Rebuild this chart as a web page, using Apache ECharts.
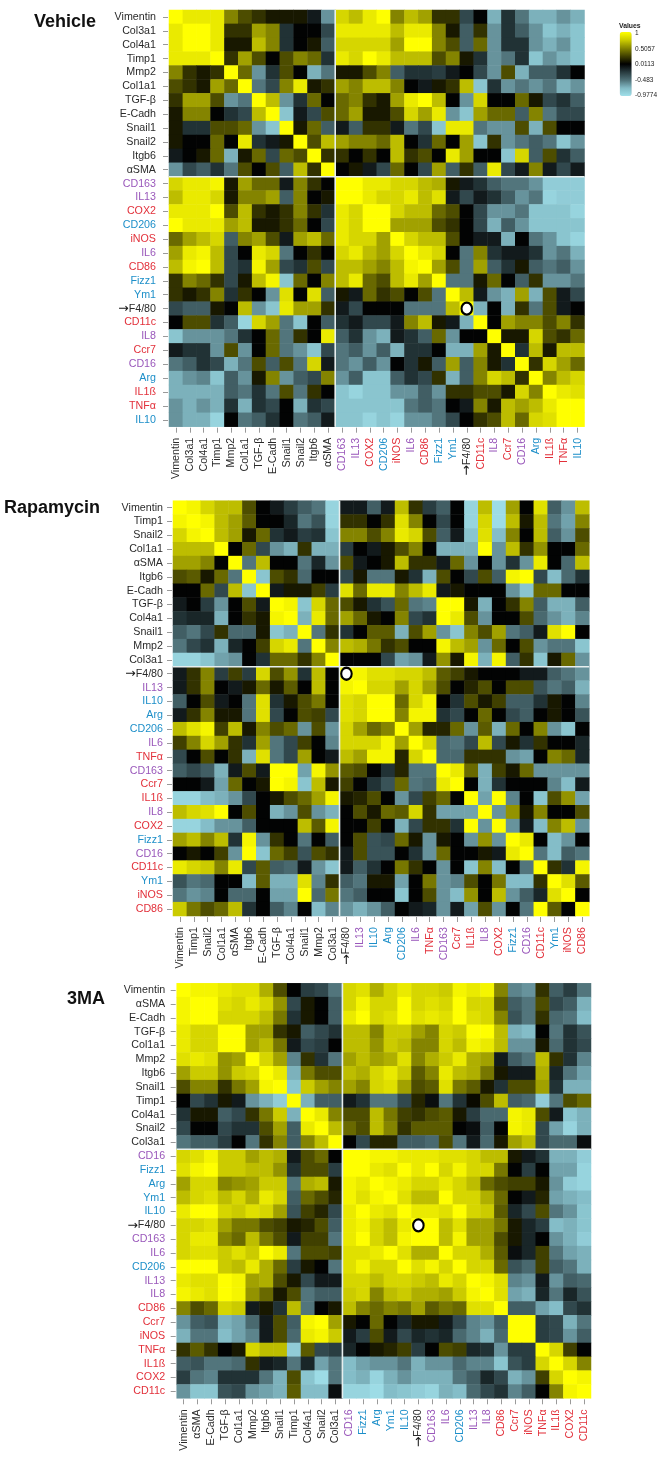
<!DOCTYPE html>
<html><head><meta charset="utf-8">
<style>html,body{margin:0;padding:0;background:#fff}#c{width:668px;height:1458px}#c canvas{filter:blur(.4px)}</style>
<script src="https://cdn.jsdelivr.net/npm/echarts@6/dist/echarts.min.js"></script>
</head><body><div id="c"></div>
<script>
// Correlation values, in tenths.
const vehicleLabels = ['Vimentin','Col3a1','Col4a1','Timp1','Mmp2','Col1a1','TGF-β','E-Cadh','Snail1','Snail2','Itgb6','αSMA','CD163','IL13','COX2','CD206','iNOS','IL6','CD86','Fizz1','Ym1','→F4/80','CD11c','IL8','Ccr7','CD16','Arg','IL1ß','TNFα','IL10'];
const rapamycinLabels = ['Vimentin','Timp1','Snail2','Col1a1','αSMA','Itgb6','E-Cadh','TGF-β','Col4a1','Snail1','Mmp2','Col3a1','→F4/80','IL13','IL10','Arg','CD206','IL6','TNFα','CD163','Ccr7','IL1ß','IL8','COX2','Fizz1','CD16','CD11c','Ym1','iNOS','CD86'];
const threeMALabels = ['Vimentin','αSMA','E-Cadh','TGF-β','Col1a1','Mmp2','Itgb6','Snail1','Timp1','Col4a1','Snail2','Col3a1','CD16','Fizz1','Arg','Ym1','IL10','→F4/80','CD163','IL6','CD206','IL13','IL8','CD86','Ccr7','iNOS','TNFα','IL1ß','COX2','CD11c'];

const purpleMarkers = ['CD163','IL13','IL6','IL8','CD16'];
const blueMarkers = ['CD206','Fizz1','Ym1','Arg','IL10'];
const redMarkers = ['COX2','iNOS','CD86','CD11c','Ccr7','IL1ß','TNFα'];

const vehicleValues = [
[10,9,9,9,5,3,2,1,1,1,-1,-6,8,7,9,10,5,7,6,2,2,-3,0,-7,-2,-5,-7,-7,-6,-7],
[9,10,10,9,2,2,6,5,-2,0,0,-3,9,9,9,9,7,9,9,5,1,-4,2,-6,-2,-4,-6,-8,-7,-8],
[9,10,10,9,1,1,7,5,-2,0,1,-4,8,8,8,8,6,10,10,5,3,-4,4,-6,-2,-2,-6,-7,-6,-8],
[9,9,9,10,2,6,3,0,3,5,4,-2,9,8,10,9,7,7,7,3,5,1,-2,-6,-5,-2,-8,-6,-7,-8],
[5,2,1,2,10,4,-6,-2,3,0,-7,-5,1,1,3,5,-4,-2,-2,-2.5,-1,0,-3,-6,3,-7,-4,-4,-2,0],
[3,2,1,6,4,10,-5,-3,5,9,1,2,6,5,7,7,5,0,-1,1,2,7,-8,-2,-6,-5,-6,-5,-7,-6],
[2,6,6,3,-6,-5,10,7,-6,-2,4,0,4,5,2,1,6,9,10,7,0,-6,8,0,0,4,1,-3,-2,-4],
[1,5,5,0,-2,-3,7,10,-8,-1,-3,3,4,6,1,1,3,8,6,9,-6,-8,6,4,4,-4,5,-5,-3,-3],
[1,-2,-2,3,3,4,-6,-8,10,1,4,-4,-1,-4,2,2,-1,-5,-3,-8,9,9,-5,-6,-6,3,-7,3,0,0],
[1,0,0,4,0,9,-2,-1,1,10,3,7,6,5,5,4,7,0,-2,4,0,6,-8,2,-6,-5,-4,-5,-8,-6],
[-1,0,1,4,-7,1,4,-3,4,3,10,2,2,0,2,0,7,2,3,0,9,6,0,0,-8,8,-4,3,-2,-4],
[-6,-3,-4,-2,-5,3,0,3,-4,7,2,10,0,1,-1,-3,4,0,-3,6,-4,2,-4,9,-3,-1,5,-1,-3,-1],
[8,9,9,9.5,1,6,4,4,-1,5,2,0,10,10,9,9,8,8,7,6.5,1,-1,-2,-4,-5,-5,-6,-8.5,-8.5,-8.5],
[7,9,9,8,1,5,5,6,-4,5,0,1,10,10,9,8,8,9,7,8.5,-1,-3,-1,-2,-4,-6,-5,-9,-8.5,-8.5],
[9,9,9,10,3,7,2,1,2,5,2,-2,9,8,10,10,8,7,7,4,3,0,-3,-6,-6,-5,-8,-8,-8,-9],
[10,9,9,9,6,7,1,1,2,4,0,-3,9,8,10,10,6,6,6,3,2,0,-3,-7,-4,-6,-8,-8,-8,-8],
[4,6,7,8,-4,5,6,3,-1,6,7,4,9,8,8,6,10,8,7,7,3,0,-1,-1,-7,0,-5,-6,-8,-9],
[6,9,9.5,7,-3,0,9,8,-5,0,2,0,8,9,7,6,8,10,9,8,0,-5,5,-2,-1,-1,-2,-6,-5,-7],
[7,9.5,10,7,-3,-2,9.5,6,-3,-2,3,-3,7,7,6,5,7,9.5,10,6,3,-5,6,-4,-2,1,-4,-5,-4,-6],
[2,5,4,2,-3,1,7,9.5,-8,4,0,5,7,9,4,3,7,9,6,10,-5,-5,1,4,0,-4,2,-6,-6,-5],
[2,1,2,5,-2,2,0,-6,8.5,0,8.5,-4,1,-1,4,2,3,0,3,-5,10,7,-1,-6,-7,6,-7,3,-1,-3],
[-3,-4,-4,1,0,7,-6,-8,9,6,6,2,-1,-3,0,0,0,-5,-5,-5,7,10,-7,0,-7,2,-5,3,-1,0],
[0,3,3,-2,-4,-9,8,6,-5,-8,0,-4,-2,-1,-3,-3,-1,5,7,1,-1,-7,10,0,6,5,5,3,5,2],
[-8,-6,-6,-6,-5,-2,0,4,-5,2,0,9,-4,-2,-6,-7,-1,-2,-4,4,-6,0,0,10,1,1,8,3,2,4],
[-1,-2,-2,-6,3,-6,0,4,-5,-6,-8,-3,-5,-4,-6,-4,-7,-2,-2,0,-7,-7,6,1,10,-2,7,1,7,7],
[-5,-4,-2,-3,-7,-5,3,-4,3,-5,8,-1,-5,-6,-4,-6,0,-2,1,-4,6,-4,5,1,-2,10,2,8,6,4],
[-7,-6,-5.5,-8,-4,-6,1,5,-6,-4,-3,5,-6,-4,-8,-8,-4,-2,-3,2,-7,-4,5,8,7,2,10,5,7,8],
[-7,-7,-7,-7,-4,-5,-2,-5,3,-5,2,0,-8,-9,-8,-8,-6,-6,-4,-6,2,2,3,3,1,8,5,10,9,8.5],
[-6,-7,-6,-7,-2,-7,-2,-3,0,-7,-2,-3,-8,-8,-8,-8,-8,-5,-4,-5,0,-1,5,1,7,6,7,9,10,10],
[-6,-7,-7,-9,0,-5,-4,-2,0,-5,-4,-1,-8,-8,-9,-8,-9,-6,-6,-5,-3,0,2,3,7,4,8,8.5,10,10]
];
const rapamycinValues = [
[10,9.5,8,7,7,3,0,-1,-2.5,-4,-5,-9,-1,-1,-4,-1,7,2,-2.5,-4,0,-9,7,-9.5,6,0,8.5,-4,-6,7],
[9.5,10,9.5,7,6,3.5,0,0,-1.5,-5,-3.5,-9,2,2,0,2,8.5,5,0,-3,0,-9,8,-9.5,7,1,7,-5,-6.5,5],
[8,9.5,10,7,6,1,4,-2,-1,-2.5,-2,-8,5,5,3,5,9,8,3,-4,-1,-8,8.5,-7.5,5,0,7,-4,-6,3],
[7,7,7,10,0,4,-3,-6,-7,2,-7,-7,-2.5,0,-1,1,3,5,0,-7,-7,-7,10,-6,7,2,5.5,0,0,4],
[6,6,5,0,10,-5,7,0,0,-5,-1.5,-6,3,-1,0,1,7,2,2,-1,4,-6,0,-6,-2,-6,9,0,-4.5,7],
[3,3.5,1,4,-5,10,-8,3,2,-4.5,0,0,-3,1,-5,-5,1,-2,-7,3,0,-3,3,-4,9.5,10,-3,-7.5,-4.5,-2],
[0,0,4,-3,7,-8,10,-1,1,1,2.5,-2.5,8.5,4,9,9,5,7,9,-1,1,0,0,0,-6,-8,4,4,0,0],
[-1,0,-2.5,-6,0,3,-1,10,9.5,-8,8,4,3,1,-2,-3.5,4,-5,-5.5,10,10,1,-7,0,2,5,-4,-7,-7,-4],
[-2,-1.5,-1.5,-7,0,2,1,9.5,10,-7,9,4,6,4,1,0,5,-3,-2,10,9,3,-6,0,0,3,-4.5,-6,-7,-5.5],
[-4,-5,-3,2,-4.5,-4.5,1,-8,-7,10,-5,2,-2,0,3.5,3.5,-7,3,6,-6,-8,5,3,6,-5,-4,-1,8.5,10,0],
[-5,-3,-2,-7,-1.5,0,2.5,8,9,-5,10,5,7,6.5,4.5,2,3,0,0,9.5,7,6,-6,4,0,3,-6,-5,-5,-8],
[-9,-9,-8,-6.5,-6,0,-2,4,4,2,5,10,0,0,0,-3,-6.5,-6,-1,5.5,1,9.5,-7,9.5,-4,2,-8,1,4,-6],
[-1,2,5,-2.5,2.5,-2.5,8,3,5.5,-2,7,0,10,9.5,8.5,8.5,8,8,7,3.5,2.5,1,0,0,0,-1,-1,-4,-5,-6],
[-1,2,5,0,-1,1,4,1,3.5,0,7,0,9.5,10,8,8,6,8,6,3,0,1.5,3,0,3,3,-3.5,-5,-4,-7],
[-4,0,3,-1,0,-5,8.5,-2,1,3,4.5,0,8.5,8,10,10,4,8,9.5,0,-2,3,1,2.5,-4,-4,-2,1,0,-5.5],
[-1,2,5,1,1,-5,8.5,-3,0,3,2.5,-3,8.5,8,10,10,5,9.5,9.5,-2,-3,0,4,0,-3,-4,0,1,0,-3.5],
[7,8.5,9.5,2.5,7,1,5,3,4,-6,3,-6,8,6,4,5,10,6,1.5,1.5,4,-6,3.5,-7,4,0,5,-6,-8,0],
[2.5,5,8,6,2,-2,6,-5,-3,2.5,0,-5.5,8,8,8,9.5,6,10,8,-4.5,-5,-3,7,-3,1,-2,2,0,0,-1.5],
[-3,0,3,0,2,-7,8.5,-5,-3,6,0,-1,7,6,9.5,9.5,1.5,8,10,-4.5,-4.5,2,2,2,-6,-6.5,0,5,4,-1.5],
[-4,-3,-4,-7,-1,3,-1,10,10,-6.5,9.5,5.5,3.5,3,0,-2,1.5,-5,-5,10,9,4,-7,2.5,1,4,-6,-6,-6,-6],
[0,0,-1,-6.5,4,0,1,10,9.5,-8,7,1,2.5,0,-2,-3.5,4,-5,-4.5,9,10,0,-7,-2,0,0,0,-5.5,-7.5,-1],
[-9,-9,-7.5,-7,-6,-3,0,1,3,4,6,9.5,1,1.5,3,0,-6,-3,2.5,4,0,10,-6.5,10,-5.5,0,-8,3,5.5,-6.5],
[7,8,8.5,10,0,3,0,-7,-6,3,-6,-7,0,3,1,4,3.5,8,2,-6.5,-6.5,-6.5,10,-6,5.5,1,5,0,0,3],
[-9,-9,-7.5,-6,-6,-4,0,0,0,7,3.5,9.5,0,0,2.5,0,-7,-3,2,2,-2,10,-6,10,-6,-1,-7.5,5,7,-6],
[6,7,5,7,-2,9.5,-6,2,0,-5,0,-4,0,3,-3.5,-3,4,1,-6,1,0,-6,5.5,-6,10,9,0,-7.5,-6,0],
[0,1,0,2.5,-6,10,-8,4,2.5,-3.5,3,2,-1,3,-3.5,-3.5,0,-2,-6,4,0,0,1,-1,9,10,-5,-7.5,-4,-5],
[9,8,7.5,5,9,-3,3.5,-4,-4.5,-1,-6,-8,-1,-4,-2,0,4.5,2,0,-6,0,-8,5,-7.5,0,-5,10,2,-2,9.5],
[-3.5,-5,-4.5,0,0,-7.5,3.5,-7,-7,8.5,-5.5,2,-4,-5,1,1,-6.5,0,4.5,-6,-5.5,3,0,4.5,-7.5,-7.5,2,10,8.5,3.5],
[-5,-6,-5.5,0,-4.5,-4.5,0,-6.5,-6.5,10,-4.5,4.5,-5,-4,0,0,-8,0,3,-6,-7.5,5.5,0,7,-6,-4,-1.5,8.5,10,0],
[7.5,4.5,3,4,7,-2,0,-4,-5.5,0,-7.5,-5.5,-6,-7,-6,-4,0,-1,-1.5,-6,-1,-6.5,3,-6,0,-5,10,3.5,0,10]
];
const threeMAValues = [
[10,9.5,9.5,9,8.5,8.5,6.5,3,0,-2.5,-3,-5,8,8.5,6.5,8,9,8,8,7.5,9.5,9,9.5,5,-5.5,-6,2,-4,-2.5,-5],
[9.5,10,10,8.5,8,9,8,5.5,-3,1,0,-4,8,9.5,8,8,10,8,8.5,8,10,8,8,3.5,-4,-5,3,-3,-4,-7],
[9.5,10,10,8,8,8,7,4.5,-2,1,0,-4,9,10,8,8.5,10,8.5,9,8.5,10,8.5,8,5,-3.5,-5,2,-4.5,-5,-7.5],
[9,8,8,10,10,6,6,2,1,-4,-3,-2,7,7,5,7.5,7.5,6,5,8,7.5,10,10,7,-7,-7.5,0,-5,-2,-3.5],
[9,8,8,10,10,6,7,4.5,-1,-3,-2.5,0,7,7,5.5,7.5,7,5,5,8,7,9.5,9,7,-6,-6,1,-4.5,-2,-3],
[8.5,9,8.5,5.5,6,10,8,6,-5.5,2,-2,-5,6,7,6,6.5,8.5,5,6.5,7.5,9,6.5,6,-1,-4,-5,7,2,-2,-5.5],
[6,7.5,7.5,5.5,7.5,8,10,9,-7,4.5,3,3,7,6.5,8,9,7.5,3.5,5,9,7,6.5,4.5,1,-1,-1,6.5,-1.5,-5,-6.5],
[3,5,5,2,4.5,6,9.5,10,-8,7.5,6,5,6,5,8,8.5,6,3,3.5,8.5,4.5,3.5,1,-2,3,3,6,-2,-7,-7],
[0,-3,-2,1,-1,-6,-7,-8.5,10,-7,-4,-4,-1,-2,-5,-5,-3,1.5,-0.5,-5,-2,0.5,3,7,-4,-4.5,-8.5,-5,3,4],
[-2,1,1,-4,-3,2,4.5,7.5,-7,10,9,5,3,3,7,4.5,2.5,2,3,3.5,1,-2.5,-4.5,-4.5,9.5,9,3,-1,-8,-7],
[-3,0,0,-3,-2,-2,3,6,-4,9,10,7,4,3,7,5,2,3.5,3.5,3.5,0,-0.5,-4,0,9.5,9,-3,-6.5,-9,-7],
[-5,-4,-4,-2.5,0,-5,2,5,-4,5,7,10,0,-3,1.5,1.5,-4,-4,-4.5,3,-5,-1,-4.5,1,6,7,-3,-4.5,-4.5,-0.5],
[8,8.5,9.5,7.5,7.5,6,7,6.5,-1,3,4,0,10,10,9.5,9.5,9,9,9,8.5,8.5,8,7,7,1,-1,-2,-7,-7,-8.5],
[8.5,9.5,10,7.5,7.5,7,7,5.5,-2,3,3,-2.5,10,10,9,8.5,10,9,10,8,9.5,8,8,4.5,0,-2.5,0,-6.5,-6.5,-9],
[6,8,8,5,5.5,6,7.5,7.5,-5,6.5,7,1,9.5,9,10,9.5,9,8,8,9,8,7,4,3,2.5,2.5,1,-6,-8.5,-9],
[7,8,8.5,7,8,6.5,9,8,-4,4,3,1.5,9.5,8.5,9.5,10,8.5,7,7,10,8,8,6.5,4,0,-1,1.5,-6.5,-7,-7.5],
[9,10,10,8,7.5,8.5,8,6,-3.5,2.5,1.5,-3,9,10,9,8.5,10,9,9,8.5,10,8,7.5,3.5,-1.5,-3,3,-5,-6,-8],
[8,8,8.5,6,4.5,4.5,3,2.5,1,1.5,3,-4,9,9.5,8,7,9,10,10,7,8.5,6,6,4.5,1,-1.5,-2.5,-7.5,-7,-8],
[8,9,9,5,4,7,4.5,3,-1,2.5,2.5,-5,9,10,8,7,9.5,10,10,7,9.5,6,6,3,1,-1.5,0,-6,-7,-8.5],
[8,8.5,8.5,7.5,8.5,7.5,10,9,-5,3,3,2.5,8.5,8.5,9,10,8.5,6.5,6.5,10,8,8,6.5,3.5,-0.5,-1.5,2.5,-5,-6.5,-7],
[10,10,10,7.5,7,9,6.5,4,-2.5,1,0,-5,8.5,9.5,8,8,10,8.5,9.5,8,10,8,8,4,-3.5,-4.5,2.5,-4,-5,-7],
[9,8.5,8.5,10,9.5,6,6.5,3,1,-3,-1,-1,8,8,7,8,8,7.5,7,9,8,10,9.5,8.5,-5.5,-6,-1,-6,-4,-4.5],
[9.5,9,8.5,10,9.5,5.5,4,1,3,-5,-4,-4,7.5,8,5,7,7.5,6.5,6.5,6,7.5,9.5,10,8.5,-6.5,-7,-1.5,-5,-1.5,-3.5],
[5,3,4,8,7.5,-1,1,-2,7,-5,0,1,7,5,4,5,4.5,6,3.5,4.5,4,8.5,8.5,10,-4,-4,-6.5,-7.5,-3,-2],
[-6,-4,-3.5,-7,-6.5,-4.5,-1,3,-4,9.5,10,6,1,0,4,0,-1.5,1,1,-1,-3,-5.5,-6,-4,10,10,-2.5,-3,-7,-5],
[-7,-5,-5,-7.5,-6.5,-5.5,-1,3,-4.5,9,9.5,7.5,-1,-2.5,3,-1,-3,-1.5,-2,-1.5,-4.5,-5.5,-7,-4.5,10,10,-2.5,-3,-6,-4],
[2,3.5,2,0,1,8,7,7,-8.5,3.5,-3,-2.5,-1.5,0,1,1.5,2.5,-2.5,0,3,2.5,-1.5,-2,-6,-2.5,-2.5,10,8,2.5,0],
[-4,-3.5,-5,-5,-4.5,2,-1,-1.5,-5,-1.5,-6.5,-5,-7.5,-6.5,-6,-6,-5,-7,-6,-6,-4.5,-5.5,-5.5,-8,-3.5,-2.5,8,10,8,5],
[-2.5,-5,-5.5,-2,-2,-2,-5,-7,3,-8,-9.5,-5,-7.5,-7,-9,-7,-6,-7,-7,-7,-5,-4,-1.5,-3,-7,-6,2.5,8,10,9.5],
[-6,-8,-8,-3.5,-3,-6,-6.5,-7,3.5,-7.5,-7.5,-0.5,-9,-9,-9.5,-7.5,-8,-8.5,-9,-7,-7.5,-4.5,-3,-2,-5.5,-4,0,5,9.5,10]
];

const legendTicks = ['1','0.5057','0.0113','-0.483','-0.9774'];
const valueMin = -0.9774, valueMax = 1;
const lastGeneLabel = {vehicle:'αSMA', rapamycin:'Col3a1', threeMA:'Col3a1'};
const dotLabel = '→F4/80';

const panels = [
  {name:'Vehicle', titleLeft:34, titleTop:13, labels:vehicleLabels, values:vehicleValues, lastGene:lastGeneLabel.vehicle,
   left:169, top:10, width:415.5, height:416.7, yMargin:12},
  {name:'Rapamycin', titleLeft:4, titleTop:499.5, labels:rapamycinLabels, values:rapamycinValues, lastGene:lastGeneLabel.rapamycin,
   left:173, top:500.7, width:416.3, height:415.3, yMargin:9},
  {name:'3MA', titleLeft:67, titleTop:990, labels:threeMALabels, values:threeMAValues, lastGene:lastGeneLabel.threeMA,
   left:176.7, top:983.3, width:414.3, height:415, yMargin:10.5}
];

function labelColor(v){
  if (purpleMarkers.includes(v)) return '#9a58bb';
  if (blueMarkers.includes(v)) return '#1d8fc9';
  if (redMarkers.includes(v)) return '#e2303a';
  return '#2b2b2b';
}
function labelText(v){
  return v===dotLabel ? '{arrow|→}{dark|F4/80}' : v;
}
const labelRich = {
  arrow:{fontFamily:'DejaVu Sans', fontSize:12.5, color:'#111'},
  dark:{fontFamily:'Liberation Sans', fontSize:10.7, color:'#2b2b2b'}
};
const labelFont = {fontFamily:'Liberation Sans', fontSize:10.7, formatter:labelText, rich:labelRich};
const tickStyle = {show:true, alignWithLabel:true, interval:0, length:5, lineStyle:{color:'#9a9a9a', width:1}};
const grid=[], xAxis=[], yAxis=[], series=[], title=[], heatIdx=[];
panels.forEach((p,i)=>{
  p.values.forEach((r,k)=>{ if(r.length!==30) throw new Error(p.name+' row '+k+' has '+r.length); });
  grid.push({left:p.left, top:p.top, width:p.width, height:p.height, containLabel:false});
  xAxis.push({type:'category', gridIndex:i, data:p.labels, position:'bottom', offset:1,
    axisLine:{show:true, onZero:false, lineStyle:{color:'rgba(255,255,255,0)'}},
    axisTick:tickStyle,
    axisLabel:Object.assign({interval:0, rotate:90, margin:10, color:labelColor}, labelFont),
    splitLine:{show:false}});
  yAxis.push({type:'category', gridIndex:i, data:p.labels, inverse:true, offset:1,
    axisLine:{show:true, lineStyle:{color:'rgba(255,255,255,0)'}},
    axisTick:tickStyle,
    axisLabel:Object.assign({interval:0, margin:p.yMargin, color:labelColor}, labelFont),
    splitLine:{show:false}});
  const cells=[];
  p.values.forEach((row,y)=>row.forEach((v,x)=>cells.push([x,y,Math.max(valueMin,v/10)])));
  heatIdx.push(series.length);
  series.push({type:'heatmap', xAxisIndex:i, yAxisIndex:i, data:cells, progressive:0, animation:false, silent:true, z:2});
  series.push({type:'custom', xAxisIndex:i, yAxisIndex:i, silent:true, animation:false, z:3, clip:false,
    data:[[p.lastGene,p.lastGene]],
    encode:{x:0,y:1},
    renderItem:(params,api)=>{
      const c=api.coord([api.value(0),api.value(1)]);
      const s=api.size([1,1]);
      const b=params.coordSys;
      const lx=c[0]+s[0]/2, ly=c[1]+s[1]/2;
      const st={stroke:'#e6eeee', lineWidth:1.6};
      return {type:'group',children:[
        {type:'line',shape:{x1:lx,y1:b.y,x2:lx,y2:b.y+b.height},style:st},
        {type:'line',shape:{x1:b.x,y1:ly,x2:b.x+b.width,y2:ly},style:st}
      ]};
    }});
  series.push({type:'scatter', xAxisIndex:i, yAxisIndex:i, silent:true, animation:false, z:4,
    data:[[dotLabel,dotLabel]], symbol:'circle', symbolSize:[10.5,12],
    itemStyle:{color:'#ffffff', borderColor:'#000000', borderWidth:2.2, opacity:1}});
  title.push({text:p.name, left:p.titleLeft, top:p.titleTop, padding:0,
    textStyle:{fontFamily:'Liberation Sans', fontSize:18, fontWeight:'bold', color:'#111', lineHeight:18}});
});

const legendY=[33,49,64.5,80,95];
const graphic=[{type:'text', left:619, top:23, style:{text:'Values', font:'bold 6.8px "Liberation Sans"', fill:'#222'}}]
  .concat(legendTicks.map((t,i)=>({type:'text', left:635, top:legendY[i]-3.5, style:{text:t, font:'6.5px "Liberation Sans"', fill:'#222'}})));

const colorRamp = ['#a0e0ea','#82bac5','#4e7077','#273a3e','#000000','#424200','#868600','#cccc00','#ffff00'];

const chart=echarts.init(document.getElementById('c'),null,{renderer:'canvas'});
chart.setOption({
  animation:false, backgroundColor:'#ffffff', title, grid, xAxis, yAxis, series, graphic,
  visualMap:{type:'continuous', min:valueMin, max:valueMax, seriesIndex:heatIdx, dimension:2,
    show:true, calculable:false, realtime:false, hoverLink:false, left:619.7, top:32, itemWidth:12, itemHeight:64, padding:0, text:null, showLabel:false,
    inRange:{color:colorRamp}, textStyle:{fontSize:1,color:'rgba(0,0,0,0)'}}
});
</script></body></html>
